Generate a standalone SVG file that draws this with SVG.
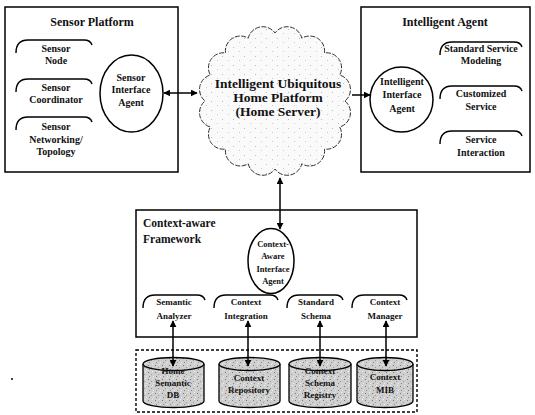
<svg xmlns="http://www.w3.org/2000/svg" width="535" height="415" viewBox="0 0 535 415">
<defs>
<marker id="ah" viewBox="0 0 10 10" refX="9" refY="5" markerWidth="7" markerHeight="7" markerUnits="userSpaceOnUse" orient="auto-start-reverse">
<path d="M0,0 L10,5 L0,10 z" fill="#000"/>
</marker>
<pattern id="speck" width="7" height="7" patternUnits="userSpaceOnUse">
<rect width="7" height="7" fill="#cfcfcf"/>
<rect x="1" y="1" width="1" height="1" fill="#777"/>
<rect x="4" y="3" width="1" height="1" fill="#999"/>
<rect x="2" y="5" width="1" height="1" fill="#888"/>
<rect x="5" y="0" width="1" height="1" fill="#f0f0f0"/>
<rect x="6" y="5" width="1" height="1" fill="#eee"/>
</pattern>
<pattern id="cloudspeck" width="11" height="9" patternUnits="userSpaceOnUse">
<rect width="11" height="9" fill="#fafafa"/>
<rect x="2" y="2" width="1" height="1" fill="#bbb"/>
<rect x="8" y="6" width="1" height="1" fill="#ccc"/>
</pattern>
</defs>
<style>
text{font-family:"Liberation Serif","Times New Roman",serif;font-weight:bold;fill:#111;text-anchor:middle}
.title{font-size:12px}
.t10{font-size:10px}
.t9{font-size:9px}
.t8{font-size:8.5px}
.box{fill:#fff;stroke:#000;stroke-width:1.5}
.tab{fill:none;stroke:#000;stroke-width:1.4}
.ell{fill:#fff;stroke:#000;stroke-width:1.5}
.cyl{fill:url(#speck);stroke:#000;stroke-width:1.3}
.conn{stroke:#000;stroke-width:1.5;fill:none}
</style>
<rect width="535" height="415" fill="#fff"/>

<g id="sensor-platform">
<rect class="box" x="5" y="7" width="173" height="165"/>
<text class="title" x="92" y="26">Sensor Platform</text>
<g id="sensor-node">
<path class="tab" d="M16,53 C16,45 20,40 28,40 L84,40 C88,40 91,42 92,45"/>
<text class="t10" x="56" y="52">Sensor</text>
<text class="t10" x="56" y="64">Node</text>
</g>
<g id="sensor-coordinator">
<path class="tab" d="M16,92 C16,84 20,79 28,79 L84,79 C88,79 91,81 92,84"/>
<text class="t10" x="56" y="91">Sensor</text>
<text class="t10" x="56" y="103">Coordinator</text>
</g>
<g id="sensor-networking">
<path class="tab" d="M16,130 C16,122 20,117 28,117 L84,117 C88,117 91,119 92,122"/>
<text class="t10" x="56" y="130">Sensor</text>
<text class="t10" x="56" y="143">Networking/</text>
<text class="t10" x="56" y="155">Topology</text>
</g>
<g id="sensor-interface-agent">
<ellipse class="ell" cx="131.5" cy="93.5" rx="31.5" ry="38.5"/>
<text class="t10" x="131" y="81">Sensor</text>
<text class="t10" x="131" y="93">Interface</text>
<text class="t10" x="131" y="106">Agent</text>
</g>
</g>

<g id="home-platform">
<path d="M345,101 A15,15 0 0 1 339.7,127 A15,15 0 0 1 324.5,149.1 A15,15 0 0 1 301.8,163.8 A15,15 0 0 1 275,169 A15,15 0 0 1 248.2,163.8 A15,15 0 0 1 225.5,149.1 A15,15 0 0 1 210.3,127 A15,15 0 0 1 205,101 A15,15 0 0 1 210.3,75 A15,15 0 0 1 225.5,52.9 A15,15 0 0 1 248.2,38.2 A15,15 0 0 1 275,33 A15,15 0 0 1 301.8,38.2 A15,15 0 0 1 324.5,52.9 A15,15 0 0 1 339.7,75 A15,15 0 0 1 345,101 Z" fill="url(#cloudspeck)" stroke="#333" stroke-width="1" stroke-dasharray="5,1.5"/>
<text style="font-size:13.5px" x="278" y="88">Intelligent Ubiquitous</text>
<text style="font-size:13.5px" x="278" y="102">Home Platform</text>
<text style="font-size:13.5px" x="278" y="116">(Home Server)</text>
</g>

<g id="intelligent-agent">
<rect class="box" x="361" y="7" width="169" height="165"/>
<text class="title" x="445" y="26">Intelligent Agent</text>
<g id="intelligent-interface-agent">
<ellipse class="ell" cx="401.5" cy="99.5" rx="31.5" ry="32.5"/>
<text class="t10" x="402" y="85">Intelligent</text>
<text class="t10" x="402" y="98">Interface</text>
<text class="t10" x="402" y="112">Agent</text>
</g>
<g id="standard-service-modeling">
<path class="tab" d="M440,55 C440,47 444,42 452,42 L514,42 C518,42 521,44 522,47"/>
<text class="t10" x="481" y="52">Standard Service</text>
<text class="t10" x="481" y="64">Modeling</text>
</g>
<g id="customized-service">
<path class="tab" d="M440,99 C440,91 444,86 452,86 L514,86 C518,86 521,88 522,91"/>
<text class="t10" x="481" y="97">Customized</text>
<text class="t10" x="481" y="110">Service</text>
</g>
<g id="service-interaction">
<path class="tab" d="M440,144 C440,136 444,131 452,131 L514,131 C518,131 521,133 522,136"/>
<text class="t10" x="481" y="143">Service</text>
<text class="t10" x="481" y="156">Interaction</text>
</g>
</g>

<g id="context-aware-framework">
<rect class="box" x="136" y="210" width="281" height="127"/>
<text style="font-size:11.5px;text-anchor:start" x="143" y="227">Context-aware</text>
<text style="font-size:11.5px;text-anchor:start" x="143" y="243">Framework</text>
<g id="context-aware-interface-agent">
<ellipse class="ell" cx="271" cy="261" rx="23" ry="32.5"/>
<text class="t8" x="273" y="247">Context-</text>
<text class="t8" x="273" y="259">Aware</text>
<text class="t8" x="273" y="272">Interface</text>
<text class="t8" x="273" y="284">Agent</text>
</g>
<g id="semantic-analyzer">
<path class="tab" d="M143,308 C143,300 147,295 155,295 L197,295 C201,295 204,297 205,300"/>
<text class="t9" x="174" y="305">Semantic</text>
<text class="t9" x="174" y="319">Analyzer</text>
</g>
<g id="context-integration">
<path class="tab" d="M214,308 C214,300 218,295 226,295 L270,295 C274,295 277,297 278,300"/>
<text class="t9" x="246" y="305">Context</text>
<text class="t9" x="246" y="319">Integration</text>
</g>
<g id="standard-schema">
<path class="tab" d="M287,308 C287,300 291,295 299,295 L335,295 C339,295 342,297 343,300"/>
<text class="t9" x="316" y="305">Standard</text>
<text class="t9" x="316" y="319">Schema</text>
</g>
<g id="context-manager">
<path class="tab" d="M352,308 C352,300 356,295 364,295 L399,295 C403,295 406,297 407,300"/>
<text class="t9" x="385" y="305">Context</text>
<text class="t9" x="385" y="319">Manager</text>
</g>
</g>

<g id="repositories">
<rect x="136" y="350" width="281" height="62" fill="none" stroke="#000" stroke-width="1.4" stroke-dasharray="3,2"/>
<g id="home-semantic-db">
<path class="cyl" d="M143,364 L143,401 A30.5,6.5 0 0 0 204,401 L204,364"/>
<ellipse class="cyl" cx="173.5" cy="364" rx="30.5" ry="6.5"/>
<text class="t9" x="173" y="374">Home</text>
<text class="t9" x="173" y="386">Semantic</text>
<text class="t9" x="173" y="398">DB</text>
</g>
<g id="context-repository">
<path class="cyl" d="M219,364 L219,401 A30.5,6.5 0 0 0 280,401 L280,364"/>
<ellipse class="cyl" cx="249.5" cy="364" rx="30.5" ry="6.5"/>
<text class="t9" x="249" y="381">Context</text>
<text class="t9" x="249" y="393">Repository</text>
</g>
<g id="context-schema-registry">
<path class="cyl" d="M289,364 L289,401 A31,6.5 0 0 0 351,401 L351,364"/>
<ellipse class="cyl" cx="320" cy="364" rx="31" ry="6.5"/>
<text class="t9" x="320" y="374">Context</text>
<text class="t9" x="320" y="386">Schema</text>
<text class="t9" x="320" y="398">Registry</text>
</g>
<g id="context-mib">
<path class="cyl" d="M357,364 L357,401 A28,6.5 0 0 0 413,401 L413,364"/>
<ellipse class="cyl" cx="385" cy="364" rx="28" ry="6.5"/>
<text class="t9" x="385" y="380">Context</text>
<text class="t9" x="385" y="393">MIB</text>
</g>
</g>

<g id="connectors">
<line class="conn" x1="164" y1="93" x2="197" y2="93" marker-start="url(#ah)" marker-end="url(#ah)"/>
<line class="conn" x1="352" y1="95" x2="370" y2="95" marker-end="url(#ah)"/>
<line class="conn" x1="280" y1="178" x2="280" y2="229" marker-start="url(#ah)" marker-end="url(#ah)"/>
<line class="conn" x1="173" y1="321" x2="173" y2="366" marker-start="url(#ah)" marker-end="url(#ah)"/>
<line class="conn" x1="248" y1="321" x2="248" y2="366" marker-start="url(#ah)" marker-end="url(#ah)"/>
<line class="conn" x1="320" y1="321" x2="320" y2="366" marker-start="url(#ah)" marker-end="url(#ah)"/>
<line class="conn" x1="386" y1="321" x2="386" y2="366" marker-start="url(#ah)" marker-end="url(#ah)"/>
</g>
<circle cx="12" cy="379" r="1" fill="#000"/>
</svg>
